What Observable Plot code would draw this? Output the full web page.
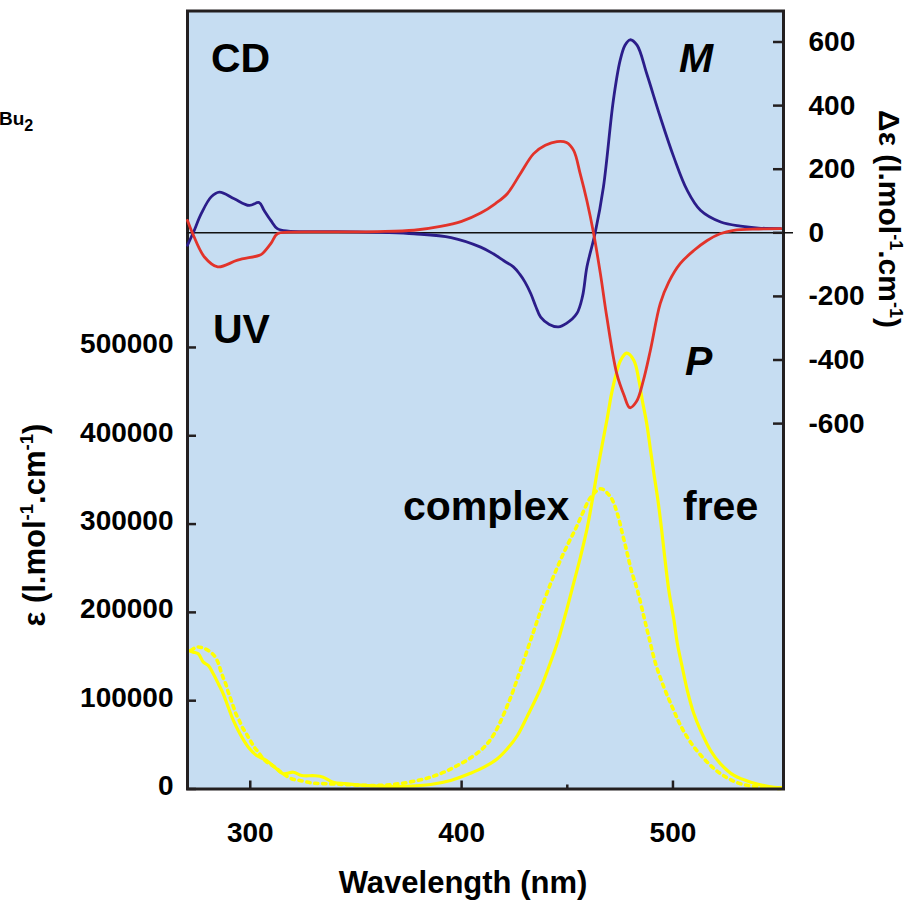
<!DOCTYPE html>
<html><head><meta charset="utf-8">
<script src="https://cdn.jsdelivr.net/npm/d3@7"></script>
<script src="https://cdn.jsdelivr.net/npm/@observablehq/plot@0.6"></script>
<style>
body{margin:0;background:#fff;}
#chart{position:relative;width:913px;height:900px;overflow:hidden;font-family:"Liberation Sans",Arial,Helvetica,sans-serif;}
#chart svg{position:absolute;left:0;top:0;overflow:visible;}
</style></head><body><div id="chart"></div>
<script>
// ---------- data (wavelength nm, value) ----------
const wlTicks = [300, 400, 500];
const wlMinorTicks = [450];
const uvTicks = [0, 100000, 200000, 300000, 400000, 500000];
const cdTicks = [-600, -400, -200, 0, 200, 400, 600];

// UV-vis, free ligand (solid)
const uvFree = [
[270.7,156900],[273.0,155000],[275.4,153100],[277.8,143600],[280.1,139900],[282.5,130500],
[284.9,119100],[287.2,107800],[289.6,92600],[292.0,77600],[295.1,62500],[299.1,47300],
[303.0,37900],[307.7,32300],[311.6,24700],[315.6,17200],[320.4,19000],[324.3,15300],
[330.6,15000],[334.5,13400],[339.3,7700],[345,6000],[353.8,4000],[369.6,2800],[385.3,5100],
[394.8,9600],[404.3,17900],[410.6,24700],[416.9,34200],[421.6,45500],[426.4,60600],[431,82000],
[437.4,114000],[441.3,138500],[445.3,165500],[449.2,198400],[453.1,234000],[456.3,263500],
[459.5,296500],[461.9,328000],[464.2,360000],[466.6,391000],[469.0,421100],[470.8,446000],
[472.9,468000],[475.2,485300],[478.1,493500],[481.5,485300],[483.9,462600],[485.5,440000],
[487.6,413600],[489.4,383400],[491.0,357000],[492.9,326700],[494.5,296500],[496.1,262500],
[498.1,224000],[500.5,190800],[502.1,164400],[504.4,137900],[506.8,111500],[509.9,85200],
[513.1,66200],[517.8,43600],[522.5,28500],[528.9,15300],[536.8,7700],[547.8,2000],[552,1500]
];
// UV-vis, complex (dotted)
const uvComplex = [
[272.0,157000],[274.6,160600],[277.4,159900],[280.6,156100],[283.2,150100],[284.9,142500],
[286.0,134200],[287.2,125900],[288.5,118300],[289.6,109600],[290.7,102100],[292.0,93400],
[293.2,85200],[294.8,77600],[296.4,69300],[298.2,62500],[299.8,55700],[301.7,48100],
[303.8,41700],[306.9,32300],[311.6,24700],[315.6,17200],[319.5,11600],[323.5,9600],
[329.8,6600],[336.1,6000],[345,5000],[360,4000],[370.2,5900],[379,9600],[385.3,13400],
[391.6,19000],[398,26600],[404.3,35300],[410.6,47300],[415.3,62000],[422,96500],[428,136000],
[434,178000],[438,206000],[442,232000],[446,255000],[450,276000],[454,295000],[457,311000],
[461,330000],[465.8,340000],[470.5,330500],[473.7,311700],[476.1,289000],[478.4,266400],
[480.3,247500],[483.2,224900],[486.3,194600],[488.6,171900],[491.8,141800],[495.7,115300],
[499.7,92600],[503.6,71900],[508.3,53000],[514.7,34200],[522.6,17200],[532.0,5900],
[544.7,1400],[551,500]
];
// CD, M helix (blue)
const cdM = [
[270.3,-39],[273,0],[276.8,60],[281.5,113],[285.4,128],[292.4,107],[299.5,86],[304.2,95],
[306.5,71],[309.7,39],[312.8,13],[318,5],[330,4],[350,3],[365,1],[377.5,-3],[395,-15],
[409,-45],[415,-66],[420,-88],[424.5,-107],[427.5,-130],[430,-155],[432.7,-191],[435,-230],
[437.4,-265],[441.5,-288],[445.8,-296],[449.6,-285],[454.5,-254],[457.2,-200],[459.3,-107],
[463.2,0],[467.1,144],[471.8,417],[475,542],[477.3,590],[479.7,607],[483,590],[487.6,500],
[494,364],[500.4,238],[506.7,134],[513,71],[522.6,34],[532,21],[540.5,15],[551,13]
];
// CD, P helix (red)
const cdP = [
[270.3,39],[272.8,-3],[278.3,-76],[284.6,-107],[294,-86],[304.2,-71],[305.8,-65],[309.7,-34],
[312.8,-3],[318,2],[340,3],[360,4],[377.5,8],[390,20],[400,36],[409,62],[416,92],[421.6,123],
[427.7,185],[434.1,249],[439.6,275],[445.1,287],[449.6,284],[453,259],[456.1,186],
[459.3,100],[462.4,0],[465.7,-130],[468.7,-265],[473.4,-443],[476.8,-510],[479.6,-550],
[482.8,-530],[486,-464],[489.3,-370],[494,-222],[498,-155],[503.4,-97],[510,-55],
[516.2,-24],[522.3,-3],[528.7,8],[540.5,12],[551,13]
];

// ---------- layout ----------
const W = 913, H = 900;
const M = {top: 10.5, right: 130, bottom: 111.5, left: 187};
const FW = W - M.left - M.right, FH = H - M.top - M.bottom;
const xDomain = [270.3, 552.3];
const uvDomain = [0, 881000];
const cdDomain = [-1749, 697.5];
const INK = "#231f20";
const FONT = "'Liberation Sans', Arial, Helvetica, sans-serif";
const toObj = a => a.map(([x, y]) => ({x, y}));

const base = {
  width: W, height: H,
  marginTop: M.top, marginRight: M.right, marginBottom: M.bottom, marginLeft: M.left,
  style: {background: "transparent", color: "#000", fontFamily: FONT, overflow: "visible"}
};

const uvPlot = Plot.plot({
  ...base,
  x: {domain: xDomain, axis: null},
  y: {domain: uvDomain, axis: null},
  marks: [
    Plot.frame({fill: "#c6ddf2", stroke: null}),
    Plot.line(toObj(uvComplex), {x: "x", y: "y", stroke: "#ffff00", strokeWidth: 3.6, strokeDasharray: "3.2,4.8", curve: "catmull-rom"}),
    Plot.line(toObj(uvFree), {x: "x", y: "y", stroke: "#ffff00", strokeWidth: 3.2, curve: "catmull-rom"}),
    Plot.tickY(uvTicks, {y: d => d, stroke: INK, strokeWidth: 2.5, insetRight: FW - 9}),
    Plot.tickX(wlTicks, {x: d => d, stroke: INK, strokeWidth: 2.5, insetTop: FH - 8}),
    Plot.tickX(wlMinorTicks, {x: d => d, stroke: INK, strokeWidth: 2.5, insetTop: FH - 4}),
    Plot.frame({stroke: INK, strokeWidth: 3}),
    Plot.axisY(uvTicks, {anchor: "left", tickSize: 0, tickPadding: 14, dy: -3, label: null,
      tickFormat: d => String(d), fontSize: 28, fontWeight: "bold"}),
    Plot.axisX(wlTicks, {anchor: "bottom", tickSize: 0, tickPadding: 33, label: null,
      tickFormat: d => String(d), fontSize: 28, fontWeight: "bold"})
  ]
});

const cdPlot = Plot.plot({
  ...base,
  x: {domain: xDomain, axis: null},
  y: {domain: cdDomain, axis: null},
  marks: [
    Plot.ruleY([0], {stroke: "#111", strokeWidth: 1.6, insetRight: -10}),
    Plot.line(toObj(cdM), {x: "x", y: "y", stroke: "#2b1d8a", strokeWidth: 2.8, curve: "catmull-rom"}),
    Plot.line(toObj(cdP), {x: "x", y: "y", stroke: "#e2332a", strokeWidth: 2.8, curve: "catmull-rom"}),
    Plot.tickY(cdTicks, {y: d => d, stroke: INK, strokeWidth: 2.5, insetLeft: FW - 10}),
    Plot.axisY(cdTicks, {anchor: "right", tickSize: 0, tickPadding: 25, label: null,
      tickFormat: d => String(d), fontSize: 28, fontWeight: "bold"})
  ]
});

const host = document.getElementById("chart");
host.appendChild(uvPlot);
host.appendChild(cdPlot);

// ---------- annotations ----------
const g = d3.select(cdPlot).append("g").attr("font-family", FONT).attr("fill", "#000");
function label({x, y, size, italic = false, rotate = 0, anchor = "start", parts}) {
  const t = g.append("text")
    .attr("transform", `translate(${x},${y}) rotate(${rotate})`)
    .attr("font-size", size).attr("font-weight", "bold")
    .attr("font-style", italic ? "italic" : "normal")
    .attr("text-anchor", anchor);
  parts.forEach(([s, kind]) => {
    const sp = t.append("tspan").text(s);
    if (kind === "sup") sp.attr("font-size", size * 0.6).attr("dy", -size * 0.38);
    else if (kind === "sub") sp.attr("font-size", size * 0.85).attr("dy", size * 0.32);
    else if (kind === "back") sp.attr("dy", size * 0.38);
  });
}
label({x: 211, y: 71.5, size: 41, parts: [["CD"]]});
label({x: 213, y: 343, size: 41, parts: [["UV"]]});
label({x: 679, y: 71.5, size: 41, italic: true, parts: [["M"]]});
label({x: 685, y: 375, size: 41, italic: true, parts: [["P"]]});
label({x: 403, y: 520, size: 41, parts: [["complex"]]});
label({x: 683, y: 520, size: 41, parts: [["free"]]});
label({x: -1, y: 125, size: 19, parts: [["Bu"], ["2", "sub"]]});
label({x: 463, y: 893, size: 31, anchor: "middle", parts: [["Wavelength (nm)"]]});
label({x: 45, y: 525, size: 31, rotate: -90, anchor: "middle",
  parts: [["ε (l.mol"], ["-1", "sup"], [".cm", "back"], ["-1", "sup"], [")", "back"]]});
label({x: 879, y: 219, size: 30, rotate: 90, anchor: "middle",
  parts: [["Δε (l.mol"], ["-1", "sup"], [".cm", "back"], ["-1", "sup"], [")", "back"]]});
</script></body></html>
